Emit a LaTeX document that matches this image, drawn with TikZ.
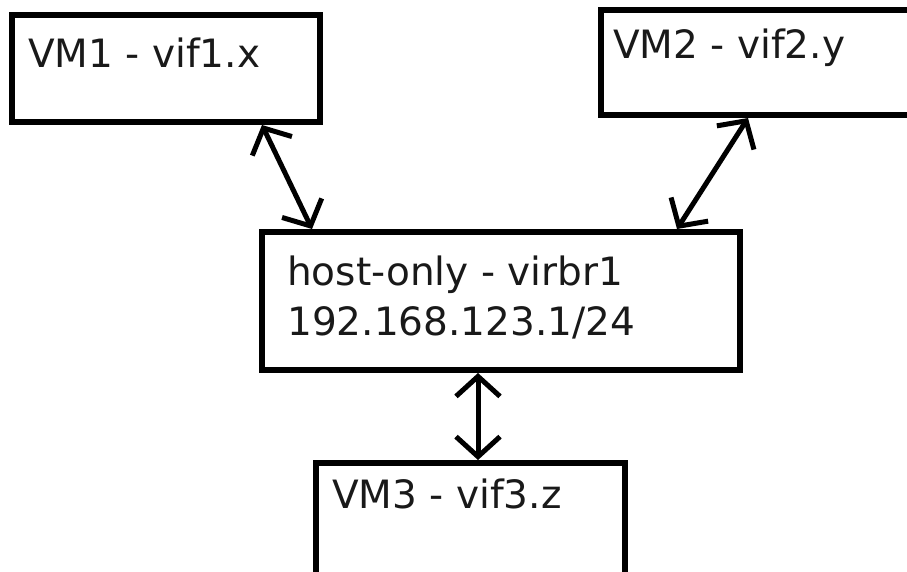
\documentclass[tikz,border=0pt]{standalone}
\usepackage{fontspec}
\setmainfont{DejaVu Sans}
\usetikzlibrary{arrows.meta}
\begin{document}
\begin{tikzpicture}[x=1pt,y=-1pt,
  box/.style={draw,line width=6pt,rectangle,inner sep=0pt,outer sep=3pt},
  lbl/.style={anchor=base west,inner sep=0pt,font=\fontsize{39}{50}\selectfont,text=black!90},
  link/.style={line width=5pt,{Straight Barb[length=20pt,width=44pt]}-{Straight Barb[length=20pt,width=44pt]}}]
\useasboundingbox (0,0) rectangle (907,571);
\clip (0,0) rectangle (907,571);
\node[box,minimum width=308pt,minimum height=107pt] (vm1) at (166,68.5) {};
\node[box,minimum width=320pt,minimum height=105pt] (vm2) at (761,62.5) {};
\node[box,minimum width=478pt,minimum height=138pt] (host) at (501,301) {};
\node[box,minimum width=309pt,minimum height=117pt] (vm3) at (470.5,521.5) {};
\node[lbl] (t1) at (28,67) {VM1 - vif1.x};
\node[lbl] (t2) at (613,58) {VM2 - vif2.y};
\node[lbl] (th1) at (287,285) {host-only - virbr1};
\node[lbl] (th2) at (287,335) {192.168.123.1/24};
\node[lbl] (t3) at (332,508) {VM3 - vif3.z};
\draw[link] ([xshift=96pt]vm1.south) -- ([xshift=-189pt]host.north);
\draw[link] ([xshift=-13pt]vm2.south) -- ([xshift=176pt]host.north);
\draw[link] ([xshift=-23pt]host.south) -- ([xshift=7.5pt]vm3.north);
\end{tikzpicture}
\end{document}
